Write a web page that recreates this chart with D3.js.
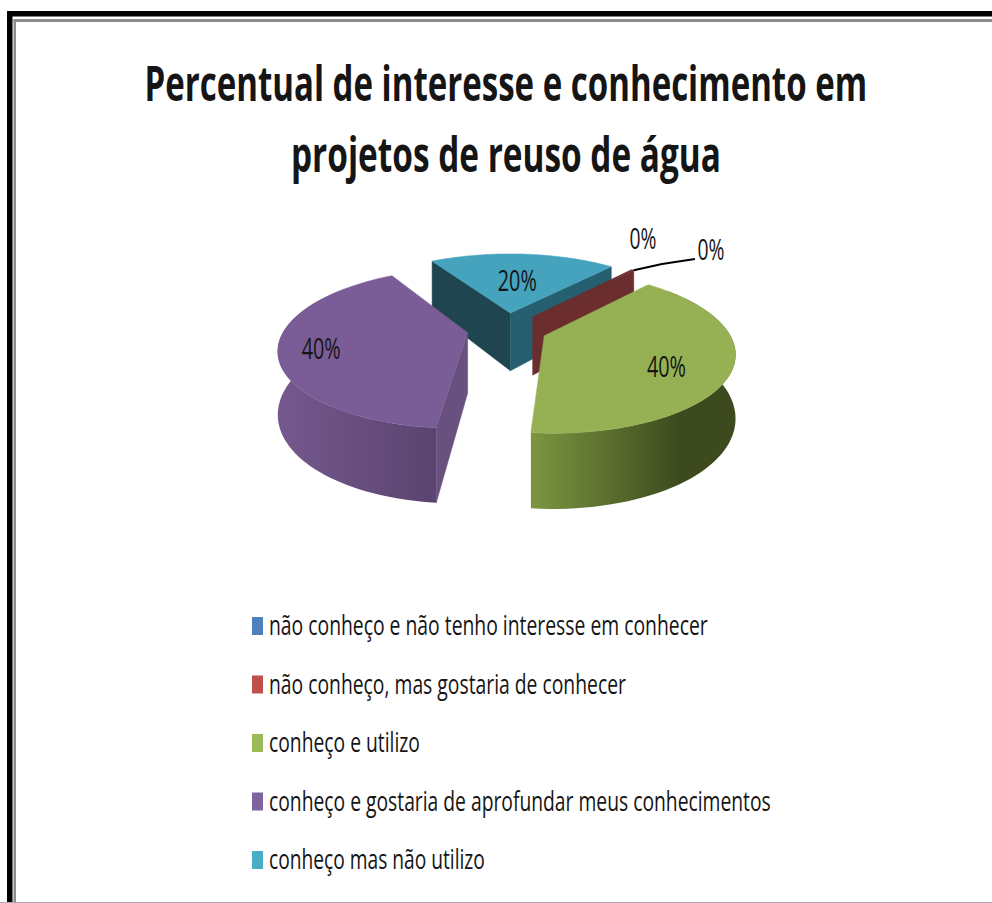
<!DOCTYPE html>
<html><head><meta charset="utf-8">
<script src="https://cdn.jsdelivr.net/npm/d3@7"></script>
<style>html,body{margin:0;padding:0;background:#fff;overflow:hidden}svg{display:block}
text{font-family:"Open Sans","Noto Sans",sans-serif;fill:#151515}</style>
</head><body><script>
const titleLines = ["Percentual de interesse e conhecimento em","projetos de reuso de água"];
const titleWidths = [723,430];
const categories = ["não conheço e não tenho interesse em conhecer","não conheço, mas gostaria de conhecer","conheço e utilizo","conheço e gostaria de aprofundar meus conhecimentos","conheço mas não utilizo"];
const legendWidths = [439,357,151,502,216];
const values = [0,0.25,40,40,20];
const labels = ["0%","0%","40%","40%","20%"];
const legendColors = ["#4f81bd","#c0504d","#9bbb59","#8064a2","#4bacc6"];
const topColors = ["#4f81bd","#6b2d2d","#95b154","#7a5c96","#45a3be"];
const wallStops = [["#3b608c","#2f4d70"],["#6b2d2d","#5c2626"],["#7a9440","#3d4a1e"],["#75598f","#5c4470"],["#1f4650","#1f4650"]];
const endFaceColors = ["#3b608c","#6b2d2d","#4a5c26","#68507f","#255f70"];
const startFaceColors = ["#3b608c","#6b2d2d","#4a5c26","#68507f","#1f4650"];

const W=992,H=903;
const svg=d3.select("body").append("svg").attr("width",W).attr("height",H);
const cx=507,cy=329,R=183,explode=40,wallH=66,tilt=Math.asin(0.415),camD=875,startDeg=41;
const rad=Math.PI/180;

function project(X,Y,Z){
  const depth=Y*Math.cos(tilt), s=camD/(camD+depth);
  return [cx+s*X, cy-s*(Y*Math.sin(tilt)+Z*Math.cos(tilt))];
}
const pie=d3.pie().sort(null).startAngle(startDeg*rad).endAngle((startDeg+360)*rad)(values);
const slices=pie.map((p,i)=>{
  const mid=(p.startAngle+p.endAngle)/2;
  return {i,a0:p.startAngle,a1:p.endAngle,mid,ox:explode*Math.sin(mid),oy:explode*Math.cos(mid)};
});
const pt=(s,r,a,z)=>project(s.ox+r*Math.sin(a),s.oy+r*Math.cos(a),z);
const arcPts=(s,z,a,b)=>d3.range(0,61).map(k=>pt(s,R,a+(b-a)*k/60,z));
const line=d3.line();
const defs=svg.append("defs");

// frame
const frame=svg.append("g");
[[7,11,W-7,5.5,"#000"],[7,11,5.5,H-11,"#000"],[13.5,19,W-13.5,3,"#8c8c8c"],[13.5,19,2.5,H-19,"#8c8c8c"],[0,902,W,1,"#aaa"]]
  .forEach(([x,y,w,h,c])=>frame.append("rect").attr("x",x).attr("y",y).attr("width",w).attr("height",h).attr("fill",c));

// pie, back to front
[4,1,3,2].forEach(idx=>{
  const s=slices[idx],g=svg.append("g");
  const face=(a,col)=>g.append("path").attr("fill",col).attr("stroke",col).attr("stroke-width",.5)
    .attr("d",line([pt(s,0,a,0),pt(s,R,a,0),pt(s,R,a,-wallH),pt(s,0,a,-wallH)])+"Z");
  // only faces turned towards the viewer
  if(Math.cos(s.a0-Math.PI/2)<0) face(s.a0,startFaceColors[idx]);
  if(Math.cos(s.a1+Math.PI/2)<0) face(s.a1,endFaceColors[idx]);
  const top=arcPts(s,0,s.a0,s.a1);
  // outer wall: the rim, without the part behind the pie
  const wa=Math.max(s.a0,50*rad), wb=Math.min(s.a1,310*rad);
  const gid="w"+idx;
  const lg=defs.append("linearGradient").attr("id",gid).attr("gradientUnits","userSpaceOnUse")
    .attr("x1",idx==2?535:276).attr("x2",idx==2?680:430).attr("y1",0).attr("y2",0);
  lg.append("stop").attr("offset",0).attr("stop-color",wallStops[idx][0]);
  lg.append("stop").attr("offset",1).attr("stop-color",wallStops[idx][1]);
  if(wb>wa)
    g.append("path").attr("fill",`url(#${gid})`)
      .attr("d",line(arcPts(s,0,wa,wb).concat(arcPts(s,-wallH,wa,wb).reverse()))+"Z");
  g.append("path").attr("fill",topColors[idx]).attr("stroke",topColors[idx]).attr("stroke-width",.5)
    .attr("d",line([pt(s,0,s.a0,0)].concat(top))+"Z");
});

// text fitted to a width by a horizontal scale
function fitText(x,y,str,size,w,anchor,weight){
  const t=svg.append("text").attr("font-size",size).attr("font-weight",weight||"normal").text(str);
  const len=t.node().getComputedTextLength(), k=w/len;
  const left=anchor==="middle"?x-w/2:x;
  t.attr("transform",`translate(${left},${y}) scale(${k},1)`);
  return t;
}
const dl=(x,y,t)=>fitText(x,y,t,29,t.length==2?27:39,"middle");
[2,3,4].forEach(i=>{
  const s=slices[i], fr=[0.7,0.78,0.5][i-2], turn=[8,-2,0][i-2]*rad;
  const p=pt(s,R*fr,s.mid+turn,0);
  dl(p[0],p[1]+10,labels[i]);
});
dl(643,249,labels[0]);
dl(711,260,labels[1]);
const leadStart=pt(slices[1],R,slices[1].a1,0);
svg.append("path").attr("fill","none").attr("stroke","#000").attr("stroke-width",2)
  .attr("d",d3.line()([leadStart,[662,264],[695,259]]));

// title
titleLines.forEach((t,i)=>fitText(506,101+i*71,t,48,titleWidths[i],"middle","bold"));

// legend
const rowY=d3.scalePoint().domain(categories).range([626,860]);
categories.forEach((c,i)=>{
  const y=rowY(c);
  svg.append("rect").attr("x",252).attr("y",y-9).attr("width",11).attr("height",18).attr("fill",legendColors[i]);
  fitText(269,y+9,c,27,legendWidths[i],"start");
});
</script></body></html>
